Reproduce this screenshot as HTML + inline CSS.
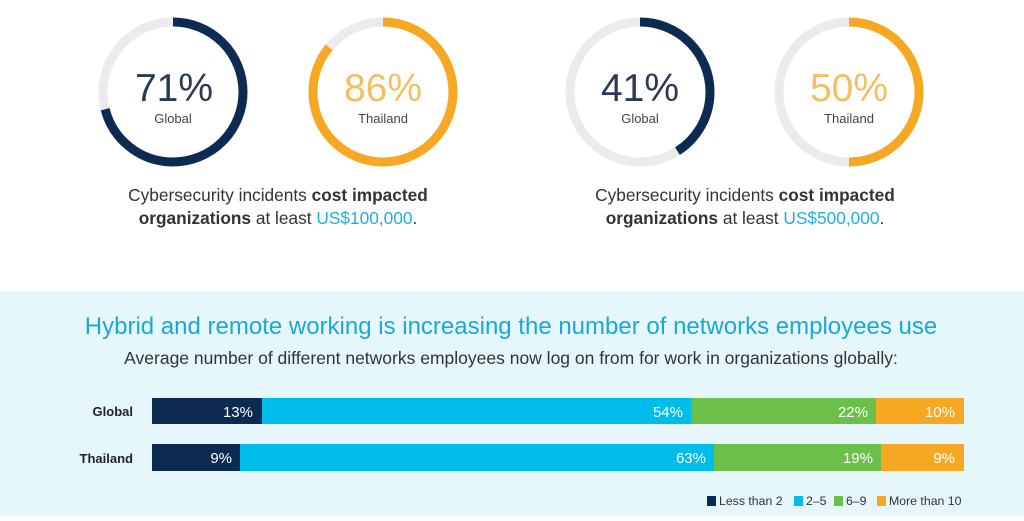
<!DOCTYPE html>
<html><head><meta charset="utf-8"><style>
body{margin:0;width:1024px;height:516px;overflow:hidden;background:#fff;font-family:"Liberation Sans",sans-serif}
</style></head><body>
<svg width="1024" height="516" viewBox="0 0 1024 516" xmlns="http://www.w3.org/2000/svg" font-family="Liberation Sans, sans-serif">
<rect x="0" y="291" width="1024" height="225" fill="#e6f7fc"/>
<g fill="none" stroke-width="9">
 <g transform="translate(173,92)"><circle r="70" stroke="#ebebeb"/><circle r="70" stroke="#0d2b52" stroke-dasharray="312.3 1000" transform="rotate(-90)"/></g>
 <g transform="translate(383,92)"><circle r="70" stroke="#ebebeb"/><circle r="70" stroke="#f7a823" stroke-dasharray="378.3 1000" transform="rotate(-90)"/></g>
 <g transform="translate(640,92)"><circle r="70" stroke="#ebebeb"/><circle r="70" stroke="#0d2b52" stroke-dasharray="180.3 1000" transform="rotate(-90)"/></g>
 <g transform="translate(849,92)"><circle r="70" stroke="#ebebeb"/><circle r="70" stroke="#f7a823" stroke-dasharray="219.9 1000" transform="rotate(-90)"/></g>
</g>
<g text-anchor="middle">
 <text x="174" y="101" font-size="39" fill="#2a3a55">71%</text><text x="173" y="123" font-size="13" fill="#444">Global</text>
 <text x="383" y="101" font-size="39" fill="#f2c060">86%</text><text x="383" y="123" font-size="13" fill="#444">Thailand</text>
 <text x="640" y="101" font-size="39" fill="#2a3a55">41%</text><text x="640" y="123" font-size="13" fill="#444">Global</text>
 <text x="849" y="101" font-size="39" fill="#f2c060">50%</text><text x="849" y="123" font-size="13" fill="#444">Thailand</text>
 <text x="278" y="201" font-size="17.3" fill="#333">Cybersecurity incidents <tspan font-weight="bold">cost impacted</tspan></text>
 <text x="278" y="224" font-size="17.3" fill="#333"><tspan font-weight="bold">organizations</tspan> at least <tspan fill="#22aee0">US$100,000</tspan>.</text>
 <text x="745" y="201" font-size="17.3" fill="#333">Cybersecurity incidents <tspan font-weight="bold">cost impacted</tspan></text>
 <text x="745" y="224" font-size="17.3" fill="#333"><tspan font-weight="bold">organizations</tspan> at least <tspan fill="#22aee0">US$500,000</tspan>.</text>
 <text x="511" y="334" font-size="24" fill="#1aa8d8">Hybrid and remote working is increasing the number of networks employees use</text>
 <text x="511" y="364" font-size="17.5" fill="#333">Average number of different networks employees now log on from for work in organizations globally:</text>
</g>
<text x="133" y="416" font-size="13" font-weight="bold" fill="#222" text-anchor="end">Global</text>
<text x="133" y="463" font-size="13" font-weight="bold" fill="#222" text-anchor="end">Thailand</text>
<rect x="152" y="398" width="110" height="26" fill="#0d2b52"/><rect x="262" y="398" width="429" height="26" fill="#00bceb"/><rect x="691" y="398" width="185" height="26" fill="#6cc04a"/><rect x="876" y="398" width="88" height="26" fill="#f7a823"/>
<rect x="152" y="444" width="88" height="27" fill="#0d2b52"/><rect x="240" y="444" width="474" height="27" fill="#00bceb"/><rect x="714" y="444" width="167" height="27" fill="#6cc04a"/><rect x="881" y="444" width="83" height="27" fill="#f7a823"/>
<g font-size="15" fill="#fff" text-anchor="end">
 <text x="253" y="417">13%</text><text x="683" y="417">54%</text><text x="868" y="417">22%</text><text x="955" y="417">10%</text>
 <text x="232" y="463">9%</text><text x="706" y="463">63%</text><text x="873" y="463">19%</text><text x="955" y="463">9%</text>
</g>
<g font-size="12.3" fill="#333">
 <rect x="707" y="496" width="9" height="10" fill="#0d2b52"/><text x="719" y="505">Less than 2</text>
 <rect x="794" y="496" width="9" height="10" fill="#00bceb"/><text x="806" y="505">2–5</text>
 <rect x="834" y="496" width="9" height="10" fill="#6cc04a"/><text x="846" y="505">6–9</text>
 <rect x="877" y="496" width="9" height="10" fill="#f7a823"/><text x="889" y="505">More than 10</text>
</g>
</svg>
</body></html>
